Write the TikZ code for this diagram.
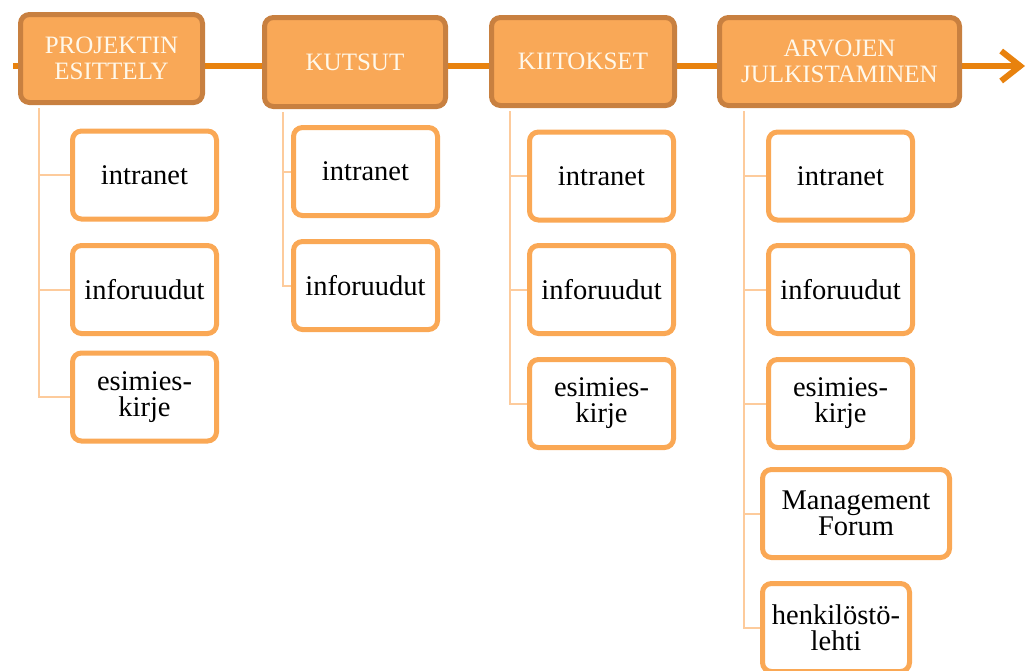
\documentclass[tikz,border=0pt]{standalone}
\usepackage{fontspec}
\setmainfont{Liberation Serif}
\usetikzlibrary{arrows.meta,shadows}
\definecolor{headfill}{HTML}{F9A857}
\definecolor{headborder}{HTML}{C88040}
\definecolor{headtext}{HTML}{FFF8EA}
\definecolor{childborder}{HTML}{FAA855}
\definecolor{treeline}{HTML}{FDCB9C}
\definecolor{arrowcol}{HTML}{E8820E}
\tikzset{
  headbox/.style={rectangle, rounded corners=9pt, fill=headfill, draw=headborder,
    line width=5pt, text=headtext, align=center, inner sep=0pt,
    font=\fontsize{25}{26}\selectfont,
    drop shadow={opacity=0.25, shadow xshift=1.5pt, shadow yshift=-2pt}},
  childbox/.style={rectangle, rounded corners=9pt, fill=white, draw=childborder,
    line width=5pt, text=black, align=center, inner sep=0pt,
    minimum width=144pt, minimum height=88pt,
    font=\fontsize{28.5}{26}\selectfont},
  treelink/.style={draw=treeline, line width=2pt},
  timeline/.style={draw=arrowcol, line width=6pt,
    -{Straight Barb[length=19pt,width=30pt,line width=6pt]}}
}
\begin{document}
\begin{tikzpicture}[x=1pt,y=-1pt]
\useasboundingbox (0,0) rectangle (1034,670);
% timeline
\coordinate (tstart) at (13,66);
\coordinate (tend) at (1025,66);
\draw[timeline] (tstart) -- (tend);
% headers
\node[headbox, minimum width=182pt, minimum height=88pt] (h1) at (111.5,58.5) {PROJEKTIN\\ESITTELY};
\node[headbox, minimum width=181pt, minimum height=89pt] (h2) at (355,62) {KUTSUT};
\node[headbox, minimum width=183pt, minimum height=88pt] (h3) at (583,61.5) {KIITOKSET};
\node[headbox, minimum width=240pt, minimum height=88pt] (h4) at (839.5,61.5) {ARVOJEN\\JULKISTAMINEN};
% column 1
\node[childbox] (c11) at (144.5,175) {intranet};
\node[childbox] (c12) at (144.5,289.5) {inforuudut};
\node[childbox] (c13) at (144.5,397) {esimies-\\kirje};
% column 2
\node[childbox] (c21) at (365.5,171.5) {intranet};
\node[childbox] (c22) at (365.5,285.5) {inforuudut};
% column 3
\node[childbox] (c31) at (601.5,176) {intranet};
\node[childbox] (c32) at (601.5,289.5) {inforuudut};
\node[childbox] (c33) at (601.5,403.5) {esimies-\\kirje};
% column 4
\node[childbox] (c41) at (840.5,176) {intranet};
\node[childbox] (c42) at (840.5,289.5) {inforuudut};
\node[childbox] (c43) at (840.5,403.5) {esimies-\\kirje};
\node[childbox, minimum width=187pt] (c44) at (856,513.5) {Management\\Forum};
\node[childbox, minimum width=147pt] (c45) at (836,627.5) {henkilöstö-\\lehti};
% tree links
\coordinate (t1) at (39,108);
\coordinate (t2) at (283,112);
\coordinate (t3) at (510,111);
\coordinate (t4) at (744,111);
\foreach \c in {c11,c12,c13} \draw[treelink] (t1) |- (\c.west);
\foreach \c in {c21,c22} \draw[treelink] (t2) |- (\c.west);
\foreach \c in {c31,c32,c33} \draw[treelink] (t3) |- (\c.west);
\foreach \c in {c41,c42,c43,c44,c45} \draw[treelink] (t4) |- (\c.west);
\end{tikzpicture}
\end{document}
